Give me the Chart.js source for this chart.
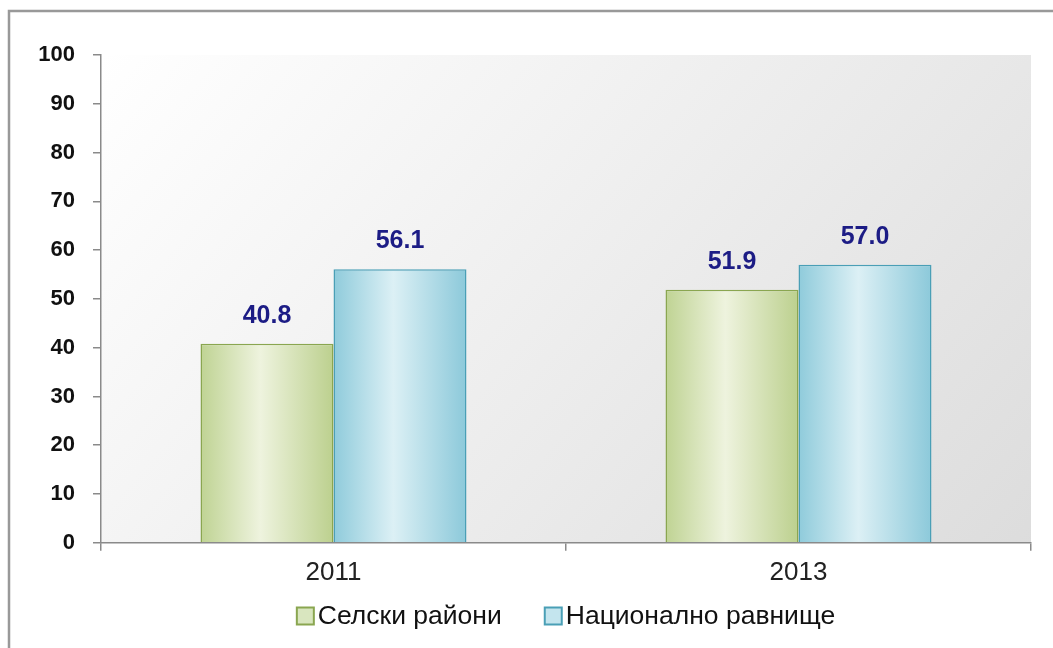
<!DOCTYPE html>
<html>
<head>
    <meta charset="UTF-8">
    <title>Селски райони / Национално равнище</title>
    <script src="https://cdn.jsdelivr.net/npm/chart.js"></script>
    <style>
        html, body { margin: 0; padding: 0; background: #ffffff; }
        #wrap { width: 1053px; height: 648px; }
    </style>
</head>
<body>
<div id="wrap"><canvas id="chart"></canvas></div>
<script>
    // данни
    var years = ['2011', '2013'];
    var rural = [40.8, 51.9];      // Селски райони
    var national = [56.1, 57.0];   // Национално равнище
    var yTicks = [0, 10, 20, 30, 40, 50, 60, 70, 80, 90, 100];

    var greenStops = ['#bfd393', '#eef3de', '#bcd08e'];
    var blueStops = ['#8fcbdb', '#dcf0f5', '#8cc9da'];
    var legendFills = ['#d9e6bf', '#c4e5ee'];
    var borders = ['#8aa650', '#4a9fb6'];
    var catPct = 0.572;
    var fontFam = '"Liberation Sans", Arial, sans-serif';

    // хоризонтален градиент за всеки стълб
    function barGradient(stops) {
        return function (c) {
            var chart = c.chart;
            if (!chart.chartArea || c.type !== 'data') return stops[1];
            var xs = chart.scales.x;
            var center = xs.getPixelForValue(c.dataIndex);
            var catW = (xs.right - xs.left) / years.length;
            var barW = catW * catPct / 2;
            var left = c.datasetIndex === 0 ? center - barW : center;
            var g = chart.ctx.createLinearGradient(left, 0, left + barW, 0);
            g.addColorStop(0, stops[0]);
            g.addColorStop(0.45, stops[1]);
            g.addColorStop(1, stops[2]);
            return g;
        };
    }

    var backgroundPlugin = {
        id: 'bg',
        beforeDraw: function (chart) {
            var ctx = chart.ctx, a = chart.chartArea;
            ctx.save();
            // рамка
            ctx.strokeStyle = '#999999';
            ctx.lineWidth = 2.5;
            ctx.strokeRect(9, 11, 1100, 700);
            // фон на графиката
            var g = ctx.createLinearGradient(a.left, a.top, a.right, a.bottom + 300);
            g.addColorStop(0, '#ffffff');
            g.addColorStop(1, '#d6d6d6');
            ctx.fillStyle = g;
            ctx.fillRect(a.left, a.top, a.right - a.left, a.bottom - a.top);
            ctx.restore();
        }
    };

    var valueLabels = {
        id: 'valueLabels',
        afterDatasetsDraw: function (chart) {
            var ctx = chart.ctx;
            ctx.save();
            ctx.font = 'bold 25px ' + fontFam;
            ctx.fillStyle = '#1c1c85';
            ctx.textAlign = 'center';
            ctx.textBaseline = 'middle';
            chart.data.datasets.forEach(function (ds, di) {
                chart.getDatasetMeta(di).data.forEach(function (el, i) {
                    ctx.fillText(ds.data[i].toFixed(1), el.x, el.y - 28);
                });
            });
            ctx.restore();
        }
    };

    // легенда под оста, центрирана спрямо графиката
    var bottomLegend = {
        id: 'bottomLegend',
        afterDraw: function (chart) {
            var ctx = chart.ctx, a = chart.chartArea;
            var box = 17, gap = 4, itemGap = 43, y = 616;
            ctx.save();
            ctx.font = '26.5px ' + fontFam;
            var ds = chart.data.datasets;
            var widths = ds.map(function (d) { return ctx.measureText(d.label).width; });
            var total = 0;
            widths.forEach(function (w, i) { total += box + gap + w + (i ? itemGap : 0); });
            var x = (a.left + a.right) / 2 - total / 2;
            ds.forEach(function (d, i) {
                ctx.fillStyle = legendFills[i];
                ctx.strokeStyle = borders[i];
                ctx.lineWidth = 2;
                ctx.fillRect(x, y - box / 2, box, box);
                ctx.strokeRect(x, y - box / 2, box, box);
                ctx.fillStyle = '#111111';
                ctx.textBaseline = 'middle';
                ctx.fillText(d.label, x + box + gap, y + 1);
                x += box + gap + widths[i] + itemGap;
            });
            ctx.restore();
        }
    };

    var ctx = document.getElementById('chart').getContext('2d');
    var chart = new Chart(ctx, {
        type: 'bar',
        data: {
            labels: years,
            datasets: [{
                label: 'Селски райони',
                data: rural,
                backgroundColor: barGradient(greenStops),
                borderColor: borders[0],
                borderWidth: 1.5,
                categoryPercentage: catPct,
                barPercentage: 1
            }, {
                label: 'Национално равнище',
                data: national,
                backgroundColor: barGradient(blueStops),
                borderColor: borders[1],
                borderWidth: 1.5,
                categoryPercentage: catPct,
                barPercentage: 1
            }]
        },
        options: {
            responsive: true,
            maintainAspectRatio: false,
            animation: false,
            layout: { padding: { top: 55, right: 22, left: 0, bottom: 54 } },
            plugins: {
                tooltip: { enabled: false },
                legend: { display: false }
            },
            scales: {
                x: {
                    grid: {
                        offset: true,
                        drawOnChartArea: false,
                        tickLength: 8,
                        color: '#8a8a8a',
                        lineWidth: 1.5
                    },
                    border: { color: '#8a8a8a', width: 1.5 },
                    ticks: {
                        padding: 6,
                        color: '#222222',
                        font: { family: fontFam, size: 26 }
                    }
                },
                y: {
                    min: 0,
                    max: 100,
                    afterFit: function (s) { s.width = 101; },
                    afterBuildTicks: function (s) {
                        s.ticks = yTicks.map(function (v) { return { value: v }; });
                    },
                    grid: {
                        drawOnChartArea: false,
                        tickLength: 8,
                        color: '#8a8a8a',
                        lineWidth: 1.5
                    },
                    border: { color: '#8a8a8a', width: 1.5 },
                    ticks: {
                        padding: 18,
                        color: '#111111',
                        font: { family: fontFam, size: 22, weight: 'bold' }
                    }
                }
            }
        },
        plugins: [backgroundPlugin, valueLabels, bottomLegend]
    });
</script>
</body>
</html>
